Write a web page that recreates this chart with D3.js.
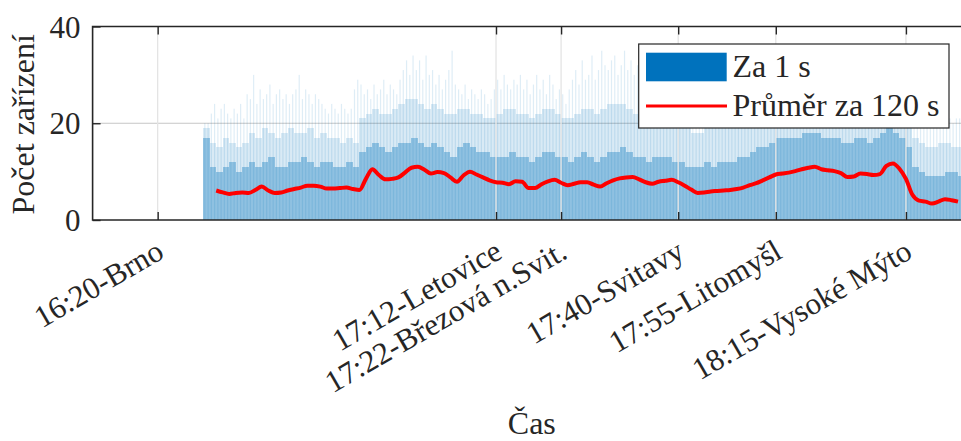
<!DOCTYPE html>
<html><head><meta charset="utf-8">
<script src="https://cdn.jsdelivr.net/npm/d3@7"></script>
<style>
body{margin:0;background:#fff}
svg{display:block}
text{font-family:"Liberation Serif","Times New Roman",serif;fill:#262626}
</style>
</head><body>
<svg id="c" width="961" height="441"></svg>
<script>
// ---------------- DATA ----------------
const tickTimes  = ["16:20","17:12","17:22","17:40","17:55","18:15"];
const tickLabels = ["16:20-Brno","17:12-Letovice","17:22-Březová n.Svit.","17:40-Svitavy","17:55-Litomyšl","18:15-Vysoké Mýto"];
const yTicks = [0, 20, 40];

// "Za 1 s" – per-second counts, summarised per minute from 16:27
const binStart = "16:27";
// top of the dense (dark) part of the per-second bars
const lowCount = [17,
 11,10,11,12,10,11,
 12,11,12,13,11,11,12,12,13,12,11,12,12,11,11,12,11,
 14,15,16,15,14,15,16,16,17,16,15,16,15,14,13,15,16,15,14,14,13,
 13,13,14,13,13,12,13,14,14,13,13,12,13,14,13,12,13,14,14,15,14,13,
 13,12,13,13,13,12,12,11,11,11,12,11,12,12,12,13,
 13,14,15,15,16,17,17,17,17,18,18,18,17,17,17,16,16,17,17,16,17,18,19,18,17,15,
 11,10,9,9,9,10,10,9];
// top of the light part of the per-second bars
const highCount = [19,
 16,15,17,16,15,16,
 18,17,19,18,17,18,19,18,18,19,17,18,17,17,16,17,16,
 21,22,23,22,22,23,24,25,25,24,23,24,23,22,22,23,23,22,22,21,21,
 22,23,23,22,22,21,22,23,23,22,21,21,22,23,23,22,23,24,24,24,23,22,
 21,20,20,21,21,20,19,19,18,18,19,19,19,20,20,21,
 21,22,22,23,24,25,25,25,24,25,26,25,25,24,24,23,23,24,24,23,24,25,26,25,24,22,
 17,16,15,15,16,16,15,15];
// highest single-second counts, every 30 s from 16:27
const spikeStart = "16:27";
const spikeCount = [20,20,
 22,24,21,23,24,22,21,23,22,24,21,26,
 25,30,24,27,25,26,28,24,26,27,25,26,24,26,27,30,25,27,26,24,26,25,24,23,22,24,23,22,24,23,22,23,27,29,
 28,26,27,25,28,26,27,29,26,28,27,26,29,31,33,30,34,31,33,29,34,30,31,28,30,27,29,31,35,28,27,26,28,25,27,26,25,27,26,24,25,27,
 29,27,30,28,27,29,28,30,27,29,26,28,30,27,29,26,30,28,25,27,26,24,27,29,31,28,33,29,30,34,29,31,35,32,31,33,34,30,32,35,31,33,30,32,
 28,26,27,29,26,28,27,25,28,26,27,29,26,25,27,24,25,26,24,26,25,27,26,24,25,27,26,28,27,26,28,27,
 28,29,30,28,29,31,30,29,31,30,32,30,31,33,30,32,31,29,32,30,33,31,32,30,31,29,30,31,29,30,31,28,29,30,28,30,30,29,31,28,29,30,30,31,32,31,31,30,29,28,27,25,
 22,21,20,22,21,20,21,22,20,21,22,21,20,21,21,20];

// "Průměr za 120 s" – moving average, one value per minute from 16:29
const avgStart = "16:29";
const avgCount = [6.1,5.7,5.4,5.6,5.7,5.6,6.2,6.9,6.1,5.6,
 5.7,6.1,6.4,6.7,7.1,7.1,6.9,6.5,6.5,6.6,
 6.7,6.4,6.2,8.5,10.5,9.3,8.4,8.5,8.8,9.8,
 10.8,11.0,10.4,9.6,9.9,9.7,8.8,7.9,9.2,10.0,
 9.4,8.8,8.2,7.8,7.7,7.4,8.0,7.9,6.6,6.6,
 7.4,8.0,8.3,7.7,7.2,7.5,7.8,7.8,7.3,6.9,
 7.6,8.2,8.6,8.8,8.9,8.4,7.8,7.5,7.9,8.1,
 8.3,7.8,7.1,6.3,5.6,5.7,5.9,6.0,6.1,6.2,
 6.4,6.7,7.2,7.6,8.2,8.8,9.4,9.6,9.8,10.1,
 10.5,10.8,11.0,10.5,10.3,10.1,9.7,8.9,9.0,9.6,
 9.5,9.3,9.5,11.2,11.7,10.6,8.5,5.2,4.0,3.8,
 3.4,3.8,4.3,4.1,3.8];

const seriesNames = ["Za 1 s", "Průměr za 120 s"];
const xTitle = "Čas", yTitle = "Počet zařízení";

// ---------------- CHART ----------------
const day = (hm) => { const [h,m] = hm.split(":").map(Number); return new Date(2021,0,1,h,m,0); };
const addMin = (d, mins) => new Date(d.getTime() + mins*60000);

const L = 92.6, R = 971, T = 26.5, B = 220;
const x = d3.scaleTime().domain([day("16:10"), day("18:25")]).range([L, R]);
const y = d3.scaleLinear().domain([0, 40]).range([B, T]);
const blue = "#0072BD", axisCol = "#262626";

const svg = d3.select("#c");
svg.append("clipPath").attr("id","clip").append("rect")
  .attr("x", L).attr("y", T).attr("width", R - L).attr("height", B - T);
const plot = svg.append("g").attr("clip-path","url(#clip)");

// grid (horizontal, under)
plot.selectAll("line.hg").data(yTicks.filter(v => v > 0 && v < 40)).join("line")
  .attr("x1", L).attr("x2", R).attr("y1", d => y(d)).attr("y2", d => y(d))
  .attr("stroke", "#dedede").attr("stroke-width", 1);

// bars
const b0 = day(binStart);
const bins = lowCount.map((v, i) => ({t0: addMin(b0, i), t1: addMin(b0, i + 1), low: v, high: highCount[i]}));
plot.append("g").selectAll("rect").data(bins).join("rect")
  .attr("x", d => x(d.t0)).attr("width", d => x(d.t1) - x(d.t0))
  .attr("y", d => y(d.high)).attr("height", d => y(0) - y(d.high))
  .attr("fill", blue).attr("fill-opacity", 0.15).attr("shape-rendering", "crispEdges");
plot.append("g").selectAll("rect").data(bins).join("rect")
  .attr("x", d => x(d.t0)).attr("width", d => x(d.t1) - x(d.t0))
  .attr("y", d => y(d.low)).attr("height", d => y(0) - y(d.low))
  .attr("fill", blue).attr("fill-opacity", 0.34).attr("shape-rendering", "crispEdges");
const s0 = day(spikeStart);
plot.append("g").selectAll("rect").data(spikeCount).join("rect")
  .attr("x", (d, i) => x(addMin(s0, i * 0.5 + 0.25)) - 0.6).attr("width", 1.2)
  .attr("y", d => y(d)).attr("height", d => y(0) - y(d))
  .attr("fill", blue).attr("fill-opacity", 0.13);

// horizontal grid over bars (faint)
plot.selectAll("line.hg2").data(yTicks.filter(v => v > 0 && v < 40)).join("line")
  .attr("x1", L).attr("x2", R).attr("y1", d => y(d)).attr("y2", d => y(d))
  .attr("stroke", axisCol).attr("stroke-opacity", 0.12).attr("stroke-width", 1);
// vertical grid
plot.selectAll("line.vg").data(tickTimes).join("line")
  .attr("x1", d => x(day(d))).attr("x2", d => x(day(d)))
  .attr("y1", T).attr("y2", B)
  .attr("stroke", "#e4e4e4").attr("stroke-width", 1.3);

// moving average line
const a0 = day(avgStart);
const line = d3.line().x((d, i) => x(addMin(a0, i))).y(d => y(d)).curve(d3.curveMonotoneX);
plot.append("path").datum(avgCount).attr("d", line)
  .attr("fill", "none").attr("stroke", "#ff0000").attr("stroke-width", 4)
  .attr("stroke-linejoin", "round");

// axes
const tickDates = tickTimes.map(day);
const gB = svg.append("g").attr("transform", `translate(0,${B})`)
  .call(d3.axisBottom(x).tickValues(tickDates).tickSize(-8).tickSizeOuter(0).tickFormat(""));
const gT = svg.append("g").attr("transform", `translate(0,${T})`)
  .call(d3.axisTop(x).tickValues(tickDates).tickSize(-8).tickSizeOuter(0).tickFormat(""));
const gL = svg.append("g").attr("transform", `translate(${L},0)`)
  .call(d3.axisLeft(y).tickValues(yTicks).tickSize(-8).tickSizeOuter(0).tickPadding(12).tickFormat(d3.format("d")));
[gB, gT, gL].forEach(g => {
  g.select(".domain").remove();
  g.selectAll(".tick line").attr("stroke", axisCol).attr("stroke-width", 1.4);
});
gL.selectAll(".tick text").attr("font-size", 31).attr("font-family", '"Liberation Serif",serif')
  .attr("fill", axisCol).attr("dy", "0.34em");

// box
svg.append("path").attr("d", `M${R},${T}H${L}V${B}H${R}`)
  .attr("fill", "none").attr("stroke", axisCol).attr("stroke-width", 1.6);

// rotated x tick labels
svg.append("g").selectAll("text").data(tickLabels).join("text")
  .attr("transform", (d, i) => `translate(${x(tickDates[i]) + 8},257) rotate(-30)`)
  .attr("text-anchor", "end").attr("font-size", 31).text(d => d);

// axis titles
svg.append("text").attr("x", (L + R) / 2).attr("y", 434).attr("text-anchor", "middle")
  .attr("font-size", 32).text(xTitle);
svg.append("text").attr("transform", `translate(34,${(T + B) / 2 + 1}) rotate(-90)`)
  .attr("text-anchor", "middle").attr("font-size", 32).text(yTitle);

// legend
const lg = svg.append("g");
lg.append("rect").attr("x", 638.7).attr("y", 44).attr("width", 310.3).attr("height", 84)
  .attr("fill", "#fff").attr("stroke", axisCol).attr("stroke-width", 1.2);
lg.append("rect").attr("x", 646).attr("y", 52.7).attr("width", 80.7).attr("height", 28.6).attr("fill", blue);
lg.append("line").attr("x1", 646).attr("x2", 727).attr("y1", 106).attr("y2", 106)
  .attr("stroke", "#ff0000").attr("stroke-width", 3);
lg.selectAll("text").data(seriesNames).join("text")
  .attr("x", 732.5).attr("y", (d, i) => i === 0 ? 77.3 : 116)
  .attr("font-size", 32).attr("fill", "#000").text(d => d);
</script>
</body></html>
